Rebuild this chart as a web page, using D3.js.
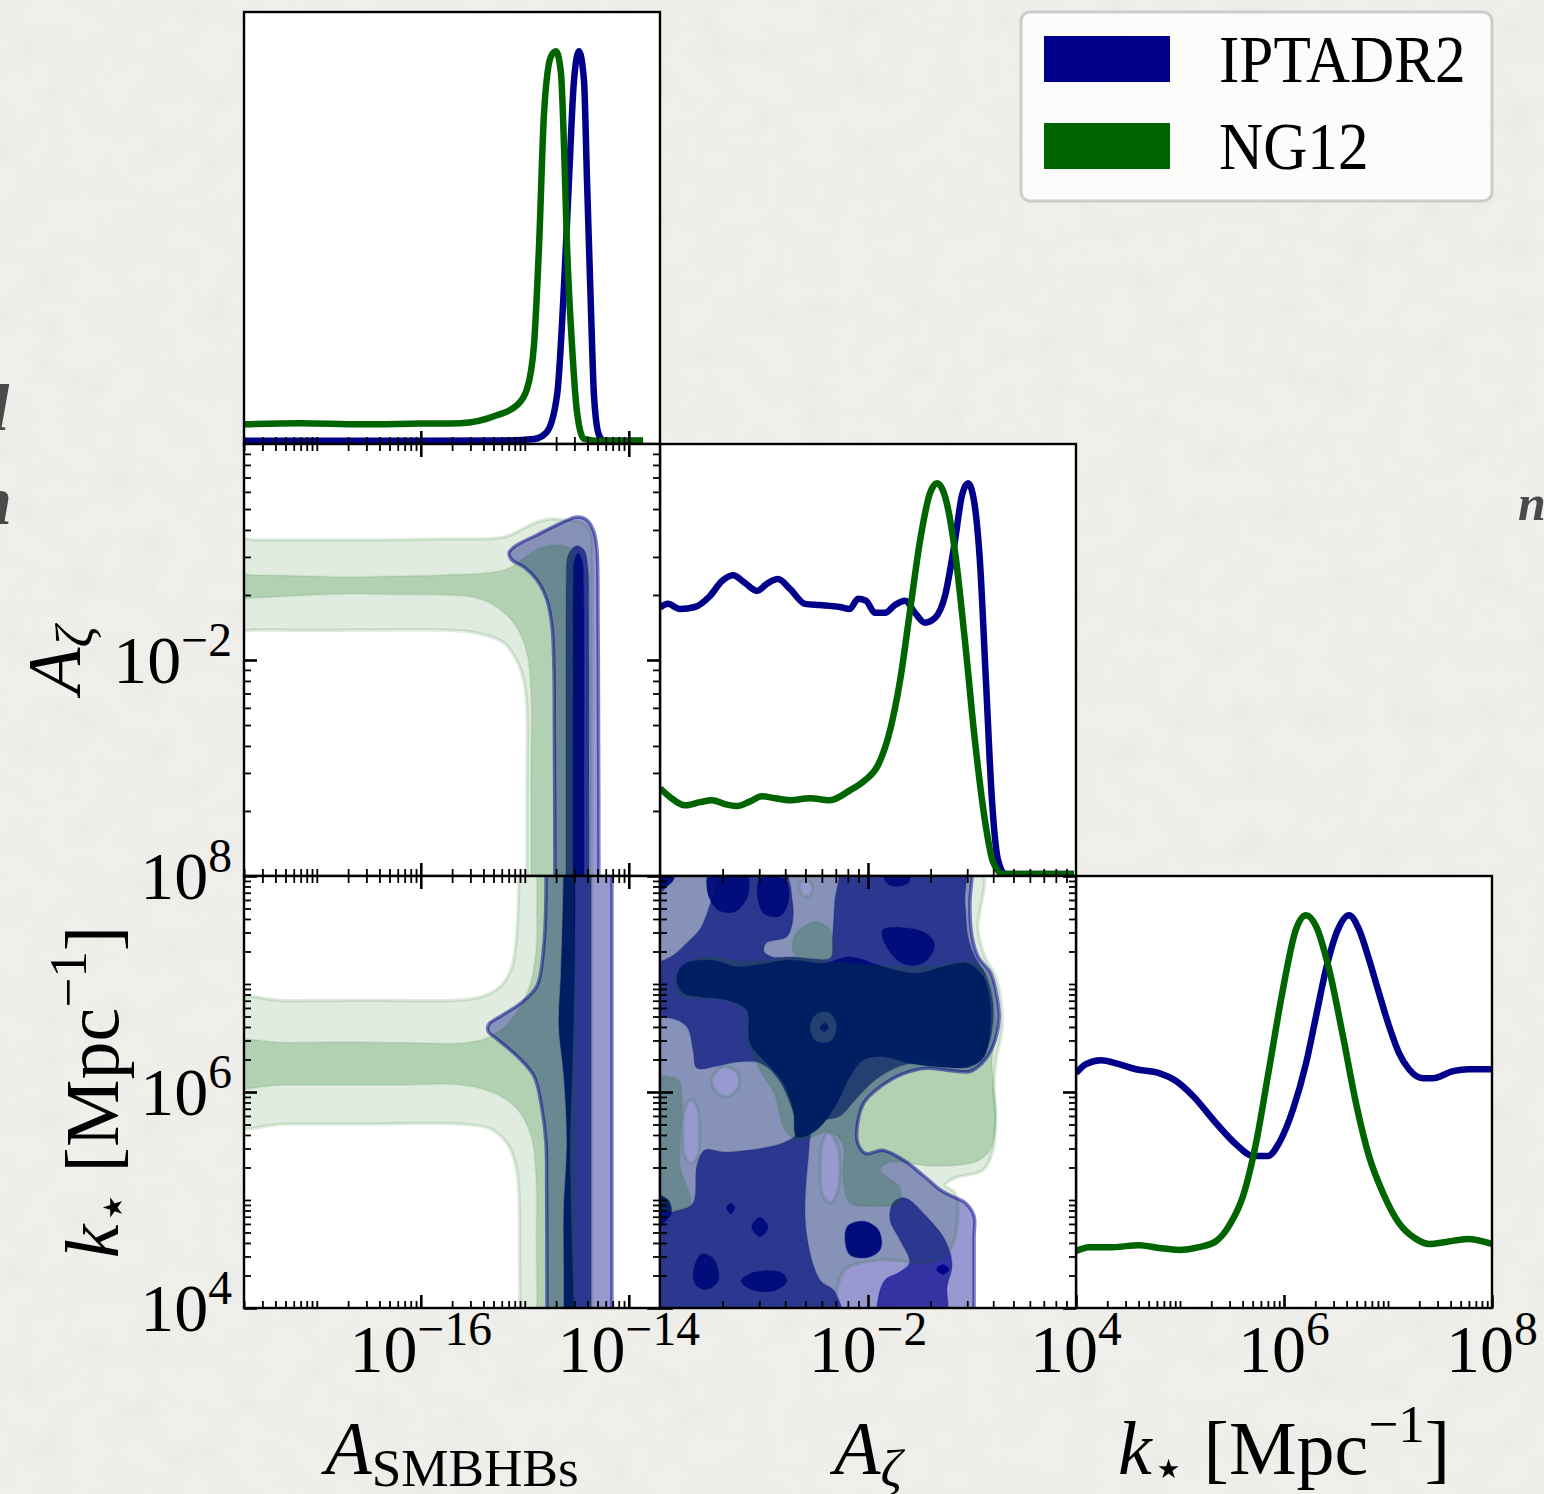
<!DOCTYPE html>
<html>
<head>
<meta charset="utf-8">
<script src="https://d3js.org/d3.v7.min.js"></script>
<style>
  html, body { margin: 0; padding: 0; background: #f0efec; }
  svg { display: block; }
  text { font-family: "Liberation Serif", "Times New Roman", serif; }
</style>
</head>
<body>
<svg id="fig" width="1544" height="1494"></svg>
<script>
// ---------------- axis ranges and major ticks ----------------
const smbhbRange = [Math.pow(10, -17.7), Math.pow(10, -13.7)];
const zetaRange = [1e-3, 1e-1];
const kstarRange = [1e4, 1e8];
const smbhbMajorTicks = [1e-16, 1e-14];
const zetaMajorTicks = [1e-2];
const kstarMajorTicks = [1e4, 1e6, 1e8];

const datasets = ["IPTADR2", "NG12"];

// ---------------- 1D marginals: [log10 value, density / peak] ----------------
const smbhbIPTA = [[-17.70,0.008],[-16.00,0.008],[-15.20,0.009],[-14.91,0.013],[-14.79,0.030],[-14.69,0.124],[-14.62,0.419],[-14.575,0.673],[-14.527,0.926],[-14.479,1.0],[-14.431,0.926],[-14.402,0.673],[-14.363,0.335],[-14.335,0.124],[-14.287,0.023],[-14.238,0.008],[-13.863,0.008]];
const smbhbNG = [[-17.70,0.050],[-17.16,0.053],[-16.58,0.050],[-16.01,0.052],[-15.62,0.053],[-15.27,0.073],[-15.075,0.099],[-14.979,0.140],[-14.912,0.251],[-14.863,0.505],[-14.815,0.843],[-14.748,0.987],[-14.700,1.0],[-14.652,0.944],[-14.623,0.759],[-14.594,0.505],[-14.546,0.251],[-14.498,0.081],[-14.431,0.013],[-14.277,0.008],[-13.863,0.008]];

const zetaIPTA = [[-3.000,0.683],[-2.962,0.693],[-2.904,0.680],[-2.832,0.685],[-2.760,0.713],[-2.702,0.751],[-2.649,0.766],[-2.591,0.746],[-2.534,0.726],[-2.481,0.746],[-2.433,0.756],[-2.375,0.731],[-2.303,0.693],[-2.231,0.690],[-2.135,0.685],[-2.087,0.680],[-2.048,0.706],[-2.010,0.701],[-1.966,0.670],[-1.918,0.670],[-1.870,0.690],[-1.822,0.701],[-1.774,0.670],[-1.726,0.645],[-1.678,0.657],[-1.630,0.713],[-1.582,0.853],[-1.548,0.970],[-1.519,1.0],[-1.490,0.954],[-1.462,0.802],[-1.433,0.497],[-1.404,0.193],[-1.375,0.041],[-1.341,0.005],[-1.010,0.005]];
const zetaNG = [[-3.000,0.223],[-2.952,0.201],[-2.880,0.180],[-2.808,0.188],[-2.750,0.193],[-2.688,0.183],[-2.630,0.178],[-2.567,0.190],[-2.510,0.203],[-2.447,0.198],[-2.375,0.193],[-2.279,0.198],[-2.183,0.193],[-2.087,0.218],[-2.014,0.244],[-1.952,0.282],[-1.894,0.371],[-1.846,0.497],[-1.798,0.675],[-1.750,0.853],[-1.702,0.975],[-1.668,1.0],[-1.630,0.967],[-1.582,0.827],[-1.534,0.599],[-1.486,0.345],[-1.438,0.142],[-1.399,0.036],[-1.351,0.005],[-1.010,0.005]];

const kstarIPTA = [[4.000,0.598],[4.096,0.621],[4.240,0.631],[4.413,0.621],[4.577,0.608],[4.798,0.598],[4.962,0.578],[5.125,0.540],[5.346,0.471],[5.538,0.417],[5.702,0.387],[5.846,0.387],[5.952,0.420],[6.087,0.506],[6.212,0.623],[6.308,0.743],[6.404,0.863],[6.519,0.964],[6.625,1.0],[6.721,0.964],[6.817,0.888],[6.913,0.802],[7.010,0.718],[7.106,0.649],[7.202,0.608],[7.337,0.585],[7.433,0.585],[7.625,0.603],[7.779,0.608],[8.000,0.608]];
const kstarNG = [[4.000,0.145],[4.125,0.155],[4.356,0.155],[4.606,0.160],[4.798,0.153],[4.990,0.148],[5.183,0.155],[5.346,0.170],[5.471,0.209],[5.606,0.285],[5.731,0.420],[5.856,0.608],[5.990,0.812],[6.115,0.964],[6.212,1.0],[6.308,0.972],[6.433,0.863],[6.567,0.692],[6.692,0.522],[6.817,0.387],[6.952,0.293],[7.106,0.216],[7.269,0.176],[7.394,0.163],[7.558,0.168],[7.769,0.176],[8.000,0.163]];

// ---------------- 2D credible regions: rings of [log10 x, log10 y] ----------------
// (A_SMBHBs, A_zeta)
const smbhbZetaIptaOuter = [[[-14.498,-1.338],[-14.402,-1.352],[-14.335,-1.407],[-14.306,-1.491],[-14.298,-1.60],[-14.296,-1.755],[-14.293,-2.0],[-14.291,-2.3],[-14.289,-2.6],[-14.288,-2.9],[-14.287,-3.1],[-14.287,-3.3],[-14.71,-3.3],[-14.71,-3.1],[-14.711,-2.9],[-14.713,-2.6],[-14.716,-2.3],[-14.719,-2.06],[-14.738,-1.847],[-14.787,-1.722],[-14.883,-1.63],[-15.008,-1.569],[-15.123,-1.537],[-15.152,-1.505],[-15.104,-1.477],[-14.883,-1.421],[-14.652,-1.366]]];
const smbhbZetaIptaMid = [[[-14.604,-3.3],[-14.604,-3.1],[-14.604,-2.8],[-14.604,-2.4],[-14.604,-2.0],[-14.603,-1.75],[-14.600,-1.63],[-14.585,-1.519],[-14.508,-1.472],[-14.431,-1.491],[-14.392,-1.583],[-14.386,-1.75],[-14.384,-2.0],[-14.383,-2.4],[-14.383,-2.8],[-14.383,-3.1],[-14.383,-3.3]]];
const smbhbZetaIptaInner = [[[-14.537,-3.3],[-14.537,-3.1],[-14.537,-2.8],[-14.537,-2.4],[-14.537,-2.0],[-14.537,-1.75],[-14.535,-1.65],[-14.527,-1.546],[-14.488,-1.505],[-14.450,-1.537],[-14.435,-1.65],[-14.432,-1.75],[-14.431,-2.0],[-14.431,-2.4],[-14.431,-2.8],[-14.431,-3.1],[-14.431,-3.3]]];
const smbhbZetaNgOuter = [[[-17.9,-1.444],[-17.6,-1.444],[-17.0,-1.445],[-16.42,-1.444],[-15.8,-1.440],[-15.20,-1.431],[-15.04,-1.398],[-14.91,-1.366],[-14.75,-1.347],[-14.62,-1.352],[-14.47,-1.361],[-14.37,-1.398],[-14.35,-1.537],[-14.352,-1.8],[-14.355,-2.2],[-14.357,-2.6],[-14.36,-2.9],[-14.36,-3.1],[-14.36,-3.3],[-14.98,-3.3],[-14.98,-3.1],[-14.98,-2.9],[-14.98,-2.6],[-14.98,-2.218],[-15.01,-2.093],[-15.08,-2.0],[-15.20,-1.921],[-15.46,-1.875],[-15.78,-1.861],[-16.4,-1.861],[-17.0,-1.862],[-17.6,-1.861],[-17.9,-1.861]]];
const smbhbZetaNgInner = [[[-17.9,-1.606],[-17.6,-1.606],[-17.0,-1.612],[-16.74,-1.616],[-16.3,-1.612],[-15.78,-1.606],[-15.30,-1.593],[-15.13,-1.569],[-14.98,-1.519],[-14.85,-1.481],[-14.66,-1.468],[-14.55,-1.491],[-14.53,-1.583],[-14.535,-1.8],[-14.537,-2.2],[-14.538,-2.6],[-14.54,-2.9],[-14.54,-3.1],[-14.54,-3.3],[-14.94,-3.3],[-14.94,-3.1],[-14.94,-2.9],[-14.94,-2.5],[-14.94,-2.153],[-14.98,-1.968],[-15.08,-1.847],[-15.27,-1.755],[-15.46,-1.713],[-15.78,-1.699],[-16.3,-1.697],[-16.74,-1.694],[-17.3,-1.705],[-17.6,-1.713],[-17.9,-1.713]]];

// (A_SMBHBs, k_star)
const smbhbKIptaOuter = [[[-14.796,8.3],[-14.796,8.1],[-14.797,7.8],[-14.815,7.38],[-14.883,6.981],[-15.037,6.824],[-15.229,6.704],[-15.344,6.63],[-15.354,6.565],[-15.267,6.491],[-15.075,6.333],[-14.912,6.148],[-14.835,5.843],[-14.796,5.528],[-14.790,5.1],[-14.788,4.6],[-14.787,4.2],[-14.787,3.9],[-14.787,3.7],[-14.162,3.7],[-14.162,3.9],[-14.162,4.2],[-14.162,4.8],[-14.162,5.5],[-14.162,6.2],[-14.162,6.9],[-14.162,7.5],[-14.162,7.9],[-14.162,8.1],[-14.162,8.3]]];
const smbhbKIptaMid = [[[-14.623,8.3],[-14.623,8.1],[-14.635,7.6],[-14.652,7.074],[-14.671,6.611],[-14.623,6.148],[-14.594,5.528],[-14.623,4.917],[-14.623,4.4],[-14.623,3.9],[-14.623,3.7],[-14.363,3.7],[-14.363,3.9],[-14.363,4.5],[-14.363,5.2],[-14.363,6.0],[-14.363,6.8],[-14.363,7.5],[-14.363,8.1],[-14.363,8.3]]];
const smbhbKIptaInner = [[[-14.623,8.3],[-14.623,8.1],[-14.635,7.6],[-14.652,7.074],[-14.671,6.611],[-14.623,6.148],[-14.594,5.528],[-14.623,4.917],[-14.623,4.4],[-14.623,3.9],[-14.623,3.7],[-14.527,3.7],[-14.527,3.9],[-14.546,4.537],[-14.565,5.528],[-14.546,6.148],[-14.527,6.852],[-14.517,7.6],[-14.517,8.1],[-14.517,8.3]]];
const smbhbKNgOuter = [[[-17.9,6.843],[-17.3,6.845],[-16.5,6.85],[-15.61,6.852],[-15.39,6.889],[-15.23,6.981],[-15.13,7.139],[-15.085,7.38],[-15.065,7.694],[-15.058,7.95],[-15.056,8.1],[-15.056,8.3],[-14.354,8.3],[-14.354,8.1],[-14.354,7.5],[-14.354,6.8],[-14.354,6.0],[-14.354,5.2],[-14.354,4.5],[-14.354,3.9],[-14.354,3.7],[-15.046,3.7],[-15.046,3.9],[-15.05,4.4],[-15.056,5.037],[-15.085,5.315],[-15.171,5.528],[-15.325,5.657],[-15.613,5.704],[-16.5,5.704],[-17.3,5.704],[-17.9,5.704]]];
const smbhbKNgInner = [[[-17.9,6.454],[-17.3,6.458],[-16.74,6.463],[-16.2,6.458],[-15.61,6.454],[-15.39,6.491],[-15.23,6.574],[-15.075,6.741],[-14.95,6.991],[-14.892,7.315],[-14.885,7.7],[-14.883,8.1],[-14.883,8.3],[-14.527,8.3],[-14.527,8.1],[-14.527,7.5],[-14.527,6.8],[-14.527,6.0],[-14.527,5.2],[-14.527,4.5],[-14.527,3.9],[-14.527,3.7],[-14.883,3.7],[-14.883,3.9],[-14.888,4.6],[-14.892,5.222],[-14.94,5.593],[-15.075,5.843],[-15.296,5.991],[-15.613,6.065],[-16.2,6.065],[-17.3,6.065],[-17.9,6.065]]];

// (A_zeta, k_star)
const zetaKIptaOuter = [[[-1.50,8.3],[-1.50,8.0],[-1.51,7.75],[-1.50,7.44],[-1.47,7.25],[-1.41,7.10],[-1.38,6.88],[-1.37,6.67],[-1.40,6.42],[-1.45,6.27],[-1.51,6.19],[-1.61,6.20],[-1.72,6.22],[-1.83,6.17],[-1.94,6.05],[-2.02,5.90],[-2.05,5.71],[-2.05,5.53],[-2.01,5.43],[-1.93,5.46],[-1.83,5.37],[-1.73,5.22],[-1.65,5.09],[-1.59,5.03],[-1.53,4.97],[-1.49,4.85],[-1.49,4.66],[-1.49,4.35],[-1.49,4.0],[-1.49,3.7],[-3.3,3.7],[-3.3,8.3]]];
const zetaKIptaMid = [
  [[-3.2,8.2],[-1.56,8.2],[-1.534,7.75],[-1.519,7.435],[-1.486,7.25],[-1.438,7.102],[-1.404,6.88],[-1.399,6.667],[-1.423,6.426],[-1.471,6.296],[-1.558,6.241],[-1.702,6.278],[-1.846,6.241],[-1.966,6.111],[-2.063,5.926],[-2.135,5.778],[-2.255,5.704],[-2.288,5.370],[-2.298,4.722],[-2.231,4.259],[-2.159,4.148],[-2.13,3.75],[-3.2,3.75]],
  [[-2.95,8.10],[-2.72,8.10],[-2.74,7.87],[-2.78,7.62],[-2.81,7.50],[-2.87,7.38],[-2.95,7.25],[-3.05,7.20],[-3.05,7.75],[-2.97,7.90]],
  [[-2.38,8.10],[-2.15,8.10],[-2.16,7.75],[-2.17,7.44],[-2.18,7.24],[-2.25,7.23],[-2.36,7.25],[-2.46,7.25],[-2.50,7.30],[-2.49,7.38],[-2.39,7.44],[-2.36,7.62],[-2.37,7.87]],
  [[-3.048,6.667],[-2.952,6.685],[-2.870,6.602],[-2.841,6.389],[-2.822,6.222],[-2.726,6.241],[-2.630,6.278],[-2.519,6.269],[-2.438,6.139],[-2.375,5.898],[-2.341,5.620],[-2.409,5.528],[-2.567,5.463],[-2.697,5.444],[-2.784,5.463],[-2.822,5.324],[-2.841,4.972],[-2.904,4.907],[-3.048,4.907]],
  [[-2.10,4.75],[-2.02,4.80],[-1.95,4.72],[-1.94,4.55],[-2.00,4.47],[-2.09,4.50]],
  [[-1.880,4.972],[-1.822,5.019],[-1.726,4.861],[-1.630,4.630],[-1.596,4.398],[-1.62,4.2],[-1.63,3.93],[-1.95,3.93],[-1.952,4.074],[-1.918,4.259],[-1.85,4.33],[-1.80,4.42],[-1.846,4.63],[-1.894,4.815]]
];
const zetaKIptaInner = [
  [[-2.920,7.037],[-2.888,7.176],[-2.760,7.222],[-2.631,7.160],[-2.535,7.176],[-2.375,7.222],[-2.215,7.192],[-2.087,7.253],[-1.926,7.160],[-1.766,7.099],[-1.638,7.160],[-1.525,7.192],[-1.446,7.068],[-1.413,6.821],[-1.413,6.574],[-1.442,6.327],[-1.510,6.234],[-1.670,6.234],[-1.798,6.266],[-1.926,6.327],[-2.023,6.296],[-2.087,6.142],[-2.150,5.895],[-2.247,5.648],[-2.343,5.586],[-2.359,5.833],[-2.407,6.080],[-2.471,6.234],[-2.567,6.451],[-2.583,6.759],[-2.679,6.852],[-2.808,6.883],[-2.888,6.914]],
  [[-2.28,6.60],[-2.25,6.72],[-2.19,6.74],[-2.15,6.62],[-2.18,6.47],[-2.25,6.47]],
  [[-2.23,6.60],[-2.21,6.64],[-2.19,6.60],[-2.21,6.56]],
  [[-3.05,8.05],[-2.93,8.05],[-2.94,7.95],[-3.05,7.85]],
  [[-2.76,8.05],[-2.59,8.05],[-2.577,7.82],[-2.64,7.67],[-2.72,7.685],[-2.77,7.84]],
  [[-2.52,7.97],[-2.40,7.97],[-2.38,7.80],[-2.42,7.63],[-2.50,7.65],[-2.53,7.80]],
  [[-1.93,8.05],[-1.80,8.05],[-1.81,7.93],[-1.90,7.92]],
  [[-1.93,7.50],[-1.73,7.48],[-1.68,7.36],[-1.73,7.20],[-1.82,7.18],[-1.90,7.31]],
  [[-2.68,4.93],[-2.66,4.97],[-2.64,4.93],[-2.66,4.87]],
  [[-2.56,4.75],[-2.52,4.84],[-2.48,4.75],[-2.52,4.66]],
  [[-2.84,4.34],[-2.80,4.50],[-2.74,4.45],[-2.72,4.25],[-2.78,4.17],[-2.83,4.22]],
  [[-2.61,4.25],[-2.55,4.33],[-2.42,4.33],[-2.39,4.25],[-2.45,4.16],[-2.56,4.17]],
  [[-3.05,5.05],[-2.96,5.00],[-2.95,4.85],[-3.05,4.75]],
  [[-2.10,4.75],[-2.02,4.80],[-1.95,4.72],[-1.94,4.55],[-2.00,4.47],[-2.09,4.50]],
  [[-1.67,4.36],[-1.64,4.40],[-1.61,4.36],[-1.64,4.31]]
];
const zetaKNgOuter = [
  [[-3.096,8.148],[-1.471,8.148],[-1.471,7.5],[-1.438,7.25],[-1.389,7.083],[-1.361,6.852],[-1.356,6.574],[-1.385,6.296],[-1.394,6.019],[-1.385,5.741],[-1.399,5.463],[-1.447,5.278],[-1.582,5.204],[-1.630,5.139],[-1.582,5.065],[-1.567,4.907],[-1.606,4.537],[-1.702,4.426],[-1.942,4.444],[-2.111,4.352],[-2.159,4.074],[-2.183,3.796],[-3.096,3.796]],
  [[-2.85,5.93],[-2.82,5.85],[-2.81,5.63],[-2.82,5.40],[-2.85,5.34],[-2.88,5.40],[-2.89,5.63],[-2.88,5.85]],
  [[-2.19,5.62],[-2.15,5.52],[-2.135,5.30],[-2.15,5.06],[-2.18,4.97],[-2.22,5.06],[-2.23,5.30],[-2.22,5.52]],
  [[-2.75,6.12],[-2.70,6.23],[-2.63,6.18],[-2.62,6.06],[-2.67,5.96],[-2.73,6.00]],
  [[-2.33,7.92],[-2.30,7.97],[-2.27,7.92],[-2.28,7.82],[-2.31,7.82]]
];
const zetaKNgInner = [
  [[-2.923,7.083],[-2.808,7.241],[-2.567,7.204],[-2.375,7.241],[-2.183,7.204],[-1.942,7.167],[-1.654,7.167],[-1.500,7.204],[-1.423,7.083],[-1.394,6.852],[-1.385,6.574],[-1.404,6.296],[-1.394,6.019],[-1.385,5.741],[-1.413,5.463],[-1.486,5.352],[-1.702,5.315],[-1.894,5.352],[-1.942,5.278],[-1.846,5.111],[-1.856,4.972],[-1.990,4.944],[-2.087,4.972],[-2.120,5.231],[-2.120,5.509],[-2.183,5.630],[-2.327,5.556],[-2.399,5.648],[-2.447,5.972],[-2.519,6.204],[-2.577,6.481],[-2.587,6.759],[-2.688,6.852],[-2.808,6.870],[-2.904,6.898]],
  [[-2.351,7.454],[-2.255,7.574],[-2.183,7.500],[-2.178,7.25],[-2.351,7.27]],
  [[-3.048,6.111],[-2.913,6.111],[-2.894,5.926],[-2.904,5.324],[-2.856,4.954],[-3.048,4.954]]
];

// ---------------- figure ----------------
const W = 1544, H = 1494;
const X0 = 244, Y0 = 12, CW = 416, CH = 432;
const BLUE = "#00008b", GREEN = "#006400";
const TICK_FS = 68, LABEL_FS = 76, LEGEND_FS = 68, LEGEND_SQ = 0.9;

const svg = d3.select("#fig");
const defs = svg.append("defs");

// paper backdrop
const paper = defs.append("filter").attr("id", "paper").attr("x", 0).attr("y", 0).attr("width", "100%").attr("height", "100%");
paper.append("feTurbulence").attr("type", "fractalNoise").attr("baseFrequency", "0.03").attr("numOctaves", 3).attr("seed", 11).attr("result", "t");
paper.append("feColorMatrix").attr("in", "t").attr("type", "matrix")
  .attr("values", "0 0 0 0 0.45  0 0 0 0 0.45  0 0 0 0 0.42  0.14 0 0 0 -0.05");
svg.append("rect").attr("width", W).attr("height", H).attr("fill", "#f0efec");
svg.append("rect").attr("width", W).attr("height", H).attr("fill", "#000").attr("filter", "url(#paper)");

// fragments of slide text peeking out at the edges
const frag = svg.append("g").attr("font-family", "'Open Sans', 'DejaVu Sans', sans-serif")
  .attr("font-weight", "bold").attr("font-style", "italic").attr("fill", "#4a4a4a");
frag.append("text").attr("x", -9).attr("y", 430).attr("font-size", 66).text("l");
frag.append("text").attr("x", -27).attr("y", 524).attr("font-size", 70).text("n");
frag.append("text").attr("x", 1518).attr("y", 520).attr("font-size", 50).text("n");

const ranges = [smbhbRange, zetaRange, kstarRange];
const majors = [smbhbMajorTicks, zetaMajorTicks, kstarMajorTicks];
const xScale = i => d3.scaleLog().domain(ranges[i]).range([0, CW]);
const yScale = i => d3.scaleLog().domain(ranges[i]).range([CH, 0]);

function panel(row, col) {
  const g = svg.append("g").attr("transform", `translate(${X0 + col * CW},${Y0 + row * CH})`);
  const id = `clip-${row}-${col}`;
  defs.append("clipPath").attr("id", id).append("rect").attr("width", CW).attr("height", CH);
  g.append("rect").attr("width", CW).attr("height", CH).attr("fill", "#fff");
  const body = g.append("g").attr("clip-path", `url(#${id})`);
  return { g, body };
}

function minorTicks(scale, majorVals) {
  const [lo, hi] = scale.domain();
  const out = [];
  for (let e = Math.floor(Math.log10(lo)); e <= Math.ceil(Math.log10(hi)); e++) {
    for (let m = 1; m <= 9; m++) {
      const v = m * Math.pow(10, e);
      if (v < lo * 1.0001 || v > hi * 0.9999) continue;
      if (majorVals.some(t => Math.abs(Math.log10(t) - Math.log10(v)) < 1e-6)) continue;
      out.push(v);
    }
  }
  return out;
}

function ticks(g, scale, orient, majorVals) {
  const make = { bottom: d3.axisBottom, top: d3.axisTop, left: d3.axisLeft, right: d3.axisRight }[orient];
  const pos = { bottom: [0, CH], top: [0, 0], left: [0, 0], right: [CW, 0] }[orient];
  [[minorTicks(scale, majorVals), 7, 1.8], [majorVals, 13, 2.6]].forEach(([vals, len, w]) => {
    const a = g.append("g").attr("transform", `translate(${pos[0]},${pos[1]})`)
      .call(make(scale).tickValues(vals).tickSizeInner(-len).tickSizeOuter(0).tickFormat(""));
    a.select(".domain").remove();
    a.selectAll("text").remove();
    a.selectAll("line").attr("stroke", "#000").attr("stroke-width", w);
  });
}

function frame(g) {
  g.append("rect").attr("width", CW).attr("height", CH).attr("fill", "none")
    .attr("stroke", "#000").attr("stroke-width", 2.4);
}

// diagonal: 1D marginals
[[smbhbIPTA, smbhbNG], [zetaIPTA, zetaNG], [kstarIPTA, kstarNG]].forEach(([ipta, ng], i) => {
  const { g, body } = panel(i, i);
  const x = xScale(i);
  const y = d3.scaleLinear().domain([0, 1.1]).range([CH, 0]);
  const line = d3.line().x(d => x(Math.pow(10, d[0]))).y(d => y(d[1])).curve(d3.curveMonotoneX);
  [[ipta, BLUE], [ng, GREEN]].forEach(([s, c]) => {
    body.append("path").attr("d", line(s)).attr("fill", "none")
      .attr("stroke", c).attr("stroke-width", 6.5).attr("stroke-linejoin", "round");
  });
  ticks(g, x, "bottom", majors[i]);
  frame(g);
});

// off-diagonal: 2D credible regions
const joints = [
  { row: 1, col: 0, ipta: [smbhbZetaIptaOuter, smbhbZetaIptaMid, smbhbZetaIptaInner], ng: [smbhbZetaNgOuter, smbhbZetaNgInner] },
  { row: 2, col: 0, ipta: [smbhbKIptaOuter, smbhbKIptaMid, smbhbKIptaInner], ng: [smbhbKNgOuter, smbhbKNgInner] },
  { row: 2, col: 1, ipta: [zetaKIptaOuter, zetaKIptaMid, zetaKIptaInner], ng: [zetaKNgOuter, zetaKNgInner] }
];
const iptaAlpha = [0.4, 0.667, 0.95];
const ngAlpha = [0.12, 0.205];

joints.forEach(J => {
  const { g, body } = panel(J.row, J.col);
  const x = xScale(J.col), y = yScale(J.row);
  const line = d3.line().x(d => x(Math.pow(10, d[0]))).y(d => y(Math.pow(10, d[1])))
    .curve(d3.curveCatmullRomClosed.alpha(0.5));
  const d = rings => rings.map(r => line(r)).join("");
  J.ipta.forEach((lvl, k) => body.append("path").attr("d", d(lvl)).attr("fill", BLUE)
    .attr("fill-opacity", iptaAlpha[k]).attr("fill-rule", "evenodd")
    .attr("stroke", BLUE).attr("stroke-opacity", k ? 0.2 : 0).attr("stroke-width", 1.5));
  J.ng.forEach((lvl, k) => body.append("path").attr("d", d(lvl)).attr("fill", GREEN)
    .attr("fill-opacity", ngAlpha[k]).attr("fill-rule", "evenodd")
    .attr("stroke", GREEN).attr("stroke-opacity", k ? 0.08 : 0.13).attr("stroke-width", k ? 2 : 3.5));
  body.append("path").attr("d", d(J.ipta[0])).attr("fill", "none")
    .attr("stroke", BLUE).attr("stroke-opacity", 0.5).attr("stroke-width", 3.5);
  ticks(g, x, "bottom", majors[J.col]);
  ticks(g, x, "top", majors[J.col]);
  ticks(g, y, "left", majors[J.row]);
  ticks(g, y, "right", majors[J.row]);
  frame(g);
});

// tick labels
function powerLabel(px, py, v, anchor) {
  const e = Math.round(Math.log10(v));
  const t = svg.append("text").attr("transform", `translate(${px},${py})`)
    .attr("text-anchor", anchor).attr("font-size", TICK_FS).attr("fill", "#000");
  t.append("tspan").text("10");
  t.append("tspan").attr("font-size", TICK_FS * 0.7).attr("dy", -TICK_FS * 0.4)
    .text(e < 0 ? "\u2212" + (-e) : String(e));
}
[0, 1, 2].forEach(col => {
  const x = xScale(col);
  majors[col].forEach(v => powerLabel(X0 + col * CW + x(v), Y0 + 3 * CH + 64, v, "middle"));
});
[1, 2].forEach(row => {
  const y = yScale(row);
  majors[row].forEach(v => powerLabel(X0 - 12, Y0 + row * CH + y(v) + 23, v, "end"));
});

// axis titles
function mathText(sel, parts, fs) {
  let shift = 0;
  parts.forEach(p => {
    const target = p.pos === "sub" ? 0.16 * fs : p.pos === "sup" ? -0.42 * fs : 0;
    sel.append("tspan").attr("dy", target - shift)
      .attr("font-size", p.pos ? fs * 0.7 : fs)
      .attr("font-style", p.it ? "italic" : "normal")
      .text(p.t);
    shift = target;
  });
}
const smbhbTitle = [{ t: "A", it: true }, { t: "SMBHBs", pos: "sub" }];
const zetaTitle = [{ t: "A", it: true }, { t: "\u03b6", it: true, pos: "sub" }];
const kstarTitle = [{ t: "k", it: true }, { t: "\u22c6", pos: "sub" }, { t: "\u00a0[Mpc" }, { t: "\u22121", pos: "sup" }, { t: "]" }];
const titles = [smbhbTitle, zetaTitle, kstarTitle];

titles.forEach((parts, i) => {
  const t = svg.append("text").attr("text-anchor", "middle")
    .attr("transform", `translate(${X0 + i * CW + CW / 2},${Y0 + 3 * CH + 166})`);
  mathText(t, parts, LABEL_FS);
});
[[1, 80], [2, 118]].forEach(([row, bx]) => {
  const t = svg.append("text").attr("text-anchor", "middle")
    .attr("transform", `translate(${bx},${Y0 + row * CH + CH / 2}) rotate(-90)`);
  mathText(t, titles[row], LABEL_FS);
});

// legend
const legend = svg.append("g");
legend.append("rect").attr("x", 1021).attr("y", 12).attr("width", 471).attr("height", 189).attr("rx", 9)
  .attr("fill", "#fff").attr("fill-opacity", 0.8).attr("stroke", "#cccccc").attr("stroke-width", 3);
datasets.forEach((name, i) => {
  legend.append("rect").attr("x", 1044).attr("y", 36 + i * 87).attr("width", 126).attr("height", 46)
    .attr("fill", [BLUE, GREEN][i]);
  legend.append("text").attr("transform", `translate(1219,${82 + i * 87}) scale(${LEGEND_SQ},1)`)
    .attr("font-size", LEGEND_FS).text(name);
});
</script>
</body>
</html>
